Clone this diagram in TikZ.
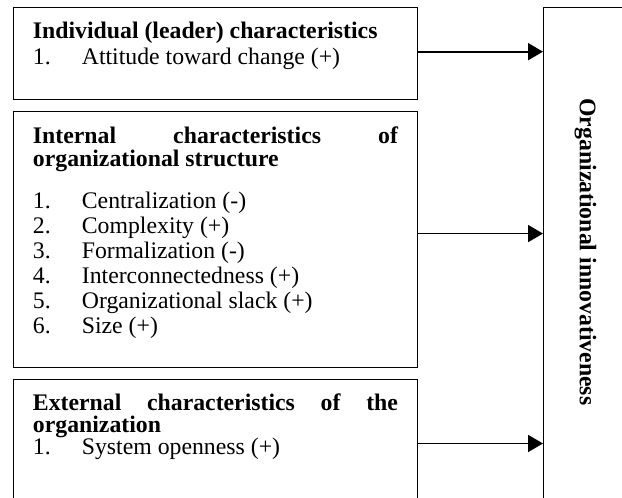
\documentclass[tikz,border=0pt]{standalone}
\usepackage{fontspec}
\setmainfont{Liberation Serif}
\usetikzlibrary{positioning,arrows.meta}

\tolerance=10000
\hyphenpenalty=10000

\newcommand{\itm}[2]{\makebox[24.7pt][l]{#1}#2\par}

\begin{document}
\begin{tikzpicture}
    \tikzset{factor/.style={
        draw, line width=0.5pt, inner xsep=10pt, inner ysep=0pt, font=\fontsize{12}{12.6}\selectfont
      },
      flow/.style={-{Triangle[length=7.5pt,width=8.5pt]}, line width=0.9pt}
    }

    \useasboundingbox (0,0) rectangle (314.1pt,-251pt);
    \clip (0,0) rectangle (314.1pt,-251pt);

    \node[factor, anchor=north west] (indiv) at (6.4pt,-3.5pt) {\parbox[c][46.7pt][t]{184.3pt}{%
        {\bfseries\rule{0pt}{15.7pt}Individual (leader) characteristics\par}
        \vspace{0.5pt}
        \itm{1.}{Attitude toward change (+)}}};

    \node[factor, below=5.6pt of indiv] (intern) {\parbox[c][128.8pt][t]{184.3pt}{%
        {\bfseries\baselineskip=11.6pt\rule{0pt}{15.9pt}Internal characteristics of organizational structure\par}
        \vspace{8.6pt}
        \itm{1.}{Centralization (-)}
        \itm{2.}{Complexity (+)}
        \itm{3.}{Formalization (-)}
        \itm{4.}{Interconnectedness (+)}
        \itm{5.}{Organizational slack (+)}
        \itm{6.}{Size (+)}}};

    \node[factor, below=5.8pt of intern] (extern) {\parbox[c][64.6pt][t]{184.3pt}{%
        {\bfseries\baselineskip=11pt\rule{0pt}{15.7pt}External characteristics of the organization\par}
        \vspace{-1.5pt}
        \itm{1.}{System openness (+)}}};

    \node[draw, line width=0.5pt, inner sep=0pt, minimum width=42.4pt, minimum height=251.5pt,
      anchor=north west] (org) at (274.2pt,-3.5pt) {};
    \node[rotate=-90, font=\fontsize{12}{12.6}\selectfont\bfseries] (orglabel) at ([yshift=2.3pt]org.center)
      {Organizational innovativeness};

    \coordinate (a1) at ([yshift=1pt]indiv.east);
    \coordinate (a2) at ([yshift=3pt]intern.east);
    \coordinate (a3) at (extern.east);

    \draw[flow] (a1) -- (a1 -| org.west);
    \draw[flow] (a2) -- (a2 -| org.west);
    \draw[flow] (a3) -- (a3 -| org.west);
  \end{tikzpicture}
\end{document}
